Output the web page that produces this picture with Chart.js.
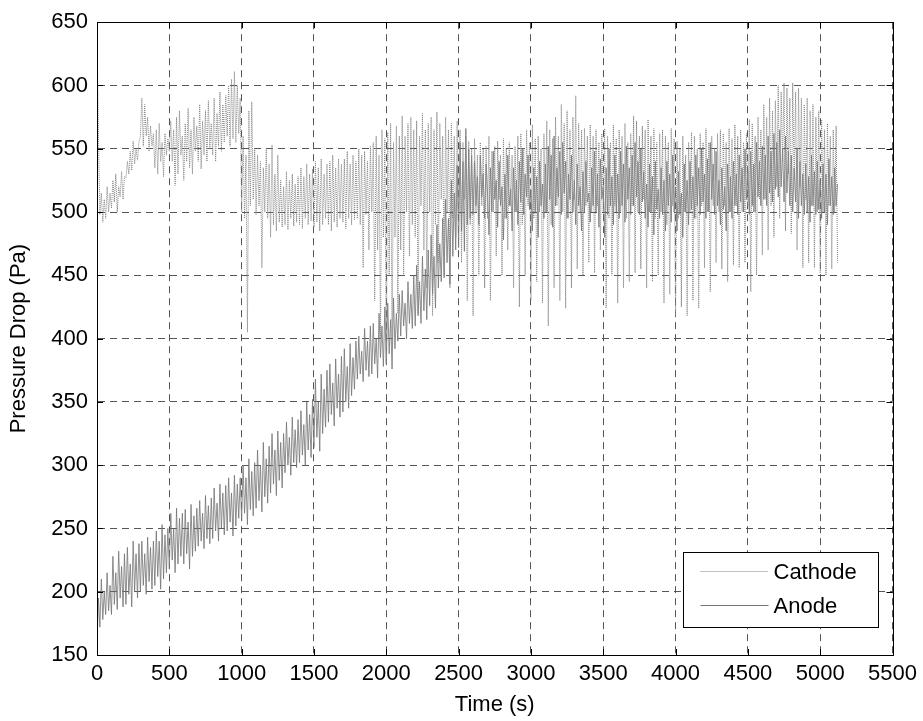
<!DOCTYPE html>
<html>
<head>
<meta charset="utf-8">
<style>
  html, body { margin: 0; padding: 0; background: #fff; }
  #chart { display: block; }
</style>
</head>
<body>
<canvas id="chart" width="923" height="721"></canvas>
<script src="https://cdn.jsdelivr.net/npm/chart.js"></script>
<script>
  // logged every 10 s, starting at t = 0
  const timeStart = 0;
  const timeStep = 10;

  // cathode pressure drop (Pa), one row per 100 s
  const cathode = [
    640, 560, 498, 515, 492, 510, 495, 520, 500, 515,
    503, 525, 508, 530, 500, 520, 512, 532, 510, 528,
    527, 540, 530, 548, 533, 556, 538, 550, 541, 555,
    560, 590, 552, 585, 560, 575, 548, 568, 552, 562,
    535, 565, 530, 570, 540, 555, 528, 562, 545, 558,
    548, 572, 540, 565, 521, 575, 530, 580, 545, 560,
    525, 570, 540, 582, 535, 565, 530, 575, 548, 568,
    540, 585, 534, 572, 545, 580, 540, 588, 550, 570,
    545, 590, 540, 578, 552, 595, 548, 585, 555, 592,
    560, 600, 552, 605, 558, 611, 555, 600, 562, 590,
    500, 560, 495, 545, 405, 580, 505, 587, 510, 550,
    498, 545, 505, 540, 456, 535, 500, 550, 495, 538,
    480, 553, 490, 530, 485, 545, 492, 525, 488, 520,
    490, 532, 486, 525, 495, 530, 489, 522, 492, 528,
    490, 535, 487, 528, 495, 538, 490, 530, 493, 534,
    488, 540, 492, 535, 485, 542, 490, 530, 495, 538,
    490, 540, 485, 545, 492, 535, 488, 542, 495, 538,
    492, 542, 487, 548, 495, 538, 490, 545, 494, 540,
    495, 550, 490, 545, 456, 548, 498, 540, 470, 552,
    500, 555, 430, 560, 470, 545, 400, 565, 480, 558,
    380, 563, 450, 570, 395, 555, 480, 568, 420, 560,
    470, 576, 450, 560, 500, 570, 465, 575, 490, 565,
    480, 572, 420, 560, 505, 578, 470, 565, 440, 570,
    500, 575, 418, 565, 490, 579, 460, 570, 510, 560,
    450, 575, 500, 565, 440, 570, 495, 560, 480, 572,
    500, 565, 460, 555, 510, 560, 430, 556, 490, 550,
    418, 558, 500, 545, 450, 555, 505, 550, 440, 552,
    495, 560, 430, 548, 500, 552, 465, 556, 510, 545,
    450, 558, 495, 550, 470, 555, 505, 545, 440, 552,
    500, 560, 425, 562, 490, 550, 450, 565, 505, 555,
    430, 569, 495, 558, 445, 560, 500, 550, 428, 562,
    500, 572, 410, 565, 490, 558, 440, 575, 505, 560,
    430, 585, 500, 570, 424, 580, 495, 565, 440, 575,
    510, 592, 455, 570, 500, 565, 450, 566, 505, 560,
    460, 569, 500, 560, 452, 565, 505, 555, 470, 562,
    500, 566, 424, 560, 495, 555, 450, 569, 505, 558,
    428, 565, 500, 560, 440, 570, 495, 555, 445, 562,
    505, 576, 452, 572, 500, 560, 455, 568, 510, 565,
    440, 573, 500, 560, 445, 566, 495, 555, 450, 562,
    500, 565, 428, 560, 490, 555, 435, 566, 505, 558,
    418, 556, 495, 550, 425, 560, 500, 545, 418, 555,
    500, 563, 430, 560, 495, 550, 424, 562, 505, 555,
    456, 566, 500, 555, 437, 560, 505, 550, 460, 562,
    500, 565, 455, 562, 505, 555, 445, 566, 500, 558,
    458, 569, 505, 560, 456, 565, 500, 555, 460, 562,
    505, 573, 437, 570, 500, 560, 450, 575, 510, 565,
    466, 585, 510, 575, 470, 590, 505, 580, 480, 588,
    520, 600, 495, 595, 540, 602, 485, 598, 530, 590,
    483, 602, 525, 595, 470, 598, 520, 590, 456, 585,
    510, 590, 460, 580, 505, 585, 456, 575, 500, 580,
    452, 573, 500, 565, 450, 570, 505, 560, 455, 565,
    500, 568, 460
  ];

  // anode pressure drop (Pa), one row per 100 s
  const anode = [
    160, 195, 172, 210, 178, 200, 182, 215, 185, 205,
    182, 228, 190, 215, 186, 232, 195, 220, 188, 230,
    190, 235, 198, 222, 188, 240, 200, 230, 195, 238,
    200, 240, 205, 230, 198, 243, 208, 235, 202, 240,
    205, 248, 212, 240, 202, 253, 210, 245, 215, 250,
    218, 262, 225, 250, 215, 266, 222, 258, 228, 262,
    222, 265, 230, 255, 218, 269, 228, 260, 232, 266,
    236, 272, 240, 262, 234, 276, 242, 268, 238, 274,
    242, 282, 248, 270, 240, 285, 250, 278, 245, 284,
    248, 290, 255, 278, 244, 292, 252, 285, 258, 290,
    256, 300, 262, 290, 253, 305, 265, 295, 260, 302,
    266, 312, 272, 300, 263, 318, 275, 305, 270, 315,
    278, 325, 285, 312, 276, 327, 288, 318, 282, 325,
    294, 334, 300, 322, 292, 338, 302, 328, 298, 336,
    302, 343, 308, 332, 300, 350, 312, 340, 306, 352,
    314, 368, 322, 350, 311, 372, 325, 360, 330, 375,
    334, 380, 340, 365, 331, 384, 345, 372, 338, 386,
    342, 392, 350, 378, 345, 396, 355, 385, 360, 398,
    368, 402, 372, 390, 366, 408, 375, 398, 370, 410,
    372, 412, 380, 400, 369, 420, 385, 410, 378, 425,
    380, 428, 388, 415, 376, 432, 392, 420, 398, 435,
    402, 438, 410, 428, 400, 445, 412, 435, 408, 450,
    410, 458, 418, 445, 412, 465, 422, 455, 415, 470,
    426, 482, 435, 465, 424, 490, 440, 475, 445, 495,
    448, 510, 460, 495, 443, 525, 465, 515, 470, 537,
    472, 555, 485, 540, 469, 566, 490, 550, 495, 545,
    498, 540, 505, 528, 490, 545, 512, 530, 495, 538,
    515, 482, 535, 500, 548, 510, 525, 488, 540, 505,
    520, 478, 530, 495, 545, 505, 518, 485, 535, 500,
    525, 490, 540, 508, 550, 498, 530, 512, 545, 502,
    518, 485, 535, 500, 528, 480, 540, 505, 522, 495,
    538, 500, 552, 510, 545, 488, 560, 505, 535, 512,
    548, 498, 555, 515, 540, 495, 530, 510, 545, 500,
    525, 490, 538, 505, 520, 485, 532, 500, 540, 508,
    515, 492, 535, 505, 548, 500, 530, 488, 542, 510,
    520, 480, 535, 498, 550, 505, 528, 490, 545, 500,
    530, 495, 548, 505, 538, 492, 552, 510, 535, 498,
    545, 505, 555, 512, 540, 498, 550, 508, 532, 495,
    522, 488, 538, 500, 528, 482, 540, 502, 518, 495,
    535, 498, 525, 485, 540, 505, 530, 492, 545, 500,
    520, 485, 532, 498, 515, 480, 538, 500, 525, 490,
    540, 502, 528, 495, 545, 505, 535, 498, 550, 508,
    530, 495, 542, 500, 555, 510, 538, 498, 548, 505,
    525, 490, 535, 502, 520, 485, 538, 500, 528, 495,
    540, 505, 530, 498, 545, 508, 535, 500, 550, 510,
    532, 498, 548, 505, 538, 500, 555, 512, 540, 505,
    552, 510, 545, 505, 560, 515, 548, 508, 562, 518,
    555, 512, 565, 520, 550, 508, 560, 515, 548, 505,
    545, 500, 535, 508, 550, 495, 540, 505, 530, 498,
    538, 500, 528, 492, 545, 505, 532, 498, 540, 502,
    525, 495, 538, 500, 530, 490, 542, 505, 528, 498,
    535, 505, 522
  ];

  const xTicks = [0, 500, 1000, 1500, 2000, 2500, 3000, 3500, 4000, 4500, 5000, 5500];
  const yTicks = [150, 200, 250, 300, 350, 400, 450, 500, 550, 600, 650];

  const toPoints = vals => vals.map((v, i) => ({ x: timeStart + i * timeStep, y: v }));

  const FONT = 'Arial, "Liberation Sans", Helvetica, sans-serif';
  const FONT_SIZE = 22;

  // box round the axes plus the small inward tick marks
  const axesFrame = {
    id: 'axesFrame',
    afterDraw(chart) {
      const { ctx, chartArea: a, scales } = chart;
      ctx.save();
      ctx.strokeStyle = '#000';
      ctx.lineWidth = 1;
      ctx.beginPath();
      xTicks.forEach(t => {
        const px = Math.round(scales.x.getPixelForValue(t)) + 0.5;
        ctx.moveTo(px, a.bottom); ctx.lineTo(px, a.bottom - 6);
        ctx.moveTo(px, a.top); ctx.lineTo(px, a.top + 6);
      });
      yTicks.forEach(t => {
        const py = Math.round(scales.y.getPixelForValue(t)) + 0.5;
        ctx.moveTo(a.left, py); ctx.lineTo(a.left + 6, py);
        ctx.moveTo(a.right, py); ctx.lineTo(a.right - 6, py);
      });
      ctx.stroke();
      ctx.strokeRect(Math.round(a.left) + 0.5, Math.round(a.top) + 0.5,
        Math.round(a.right - a.left), Math.round(a.bottom - a.top));
      ctx.restore();
    }
  };

  // legend box in the lower right corner of the axes
  const cornerLegend = {
    id: 'cornerLegend',
    afterDraw(chart) {
      const { ctx, chartArea: a } = chart;
      const w = 195, h = 75;
      const x0 = Math.round(a.right - 15 - w) + 0.5;
      const y0 = Math.round(a.bottom - 28 - h) + 0.5;
      ctx.save();
      ctx.fillStyle = '#fff';
      ctx.fillRect(x0, y0, w, h);
      ctx.strokeStyle = '#000';
      ctx.lineWidth = 1;
      ctx.strokeRect(x0, y0, w, h);
      ctx.font = FONT_SIZE + 'px ' + FONT;
      ctx.textBaseline = 'middle';
      chart.data.datasets.forEach((ds, i) => {
        const y = Math.round(y0 + 18 + i * 34) + 0.5;
        ctx.strokeStyle = ds.borderColor;
        ctx.setLineDash(ds.borderDash || []);
        ctx.lineWidth = 1;
        ctx.beginPath();
        ctx.moveTo(x0 + 17, y);
        ctx.lineTo(x0 + 85, y);
        ctx.stroke();
        ctx.setLineDash([]);
        ctx.fillStyle = '#000';
        ctx.fillText(ds.label, x0 + 90, y + 1);
      });
      ctx.restore();
    }
  };

  new Chart(document.getElementById('chart'), {
    type: 'line',
    data: {
      datasets: [
        {
          label: 'Cathode',
          data: toPoints(cathode),
          borderColor: '#858585',
          borderDash: [1, 1],
          borderWidth: 1,
          pointRadius: 0,
          tension: 0
        },
        {
          label: 'Anode',
          data: toPoints(anode),
          borderColor: '#747474',
          borderWidth: 0.8,
          pointRadius: 0,
          tension: 0
        }
      ]
    },
    options: {
      responsive: false,
      animation: false,
      layout: { padding: { top: 20, right: 30, left: 0, bottom: 0 } },
      plugins: {
        legend: { display: false },
        tooltip: { enabled: false }
      },
      scales: {
        x: {
          type: 'linear',
          min: 0,
          max: 5500,
          afterBuildTicks: s => { s.ticks = xTicks.map(v => ({ value: v })); },
          afterFit: s => { s.height = 66; },
          ticks: { color: '#000', font: { family: FONT, size: FONT_SIZE }, padding: 6, maxRotation: 0, callback: v => String(v) },
          grid: { color: '#555', lineWidth: 1, drawTicks: false },
          border: { display: true, color: '#000', dash: [7, 5] },
          title: { display: true, text: 'Time (s)', color: '#000', font: { family: FONT, size: FONT_SIZE }, padding: { top: 0, bottom: 3 } }
        },
        y: {
          type: 'linear',
          min: 150,
          max: 650,
          afterBuildTicks: s => { s.ticks = yTicks.map(v => ({ value: v })); },
          afterFit: s => { s.width = 97; },
          ticks: { color: '#000', font: { family: FONT, size: FONT_SIZE }, padding: 9, callback: v => String(v) },
          grid: { color: '#555', lineWidth: 1, drawTicks: false },
          border: { display: true, color: '#000', dash: [7, 5] },
          title: { display: true, text: 'Pressure Drop (Pa)', color: '#000', font: { family: FONT, size: FONT_SIZE }, padding: { top: 6, bottom: 0 } }
        }
      }
    },
    plugins: [axesFrame, cornerLegend]
  });
</script>
</body>
</html>
